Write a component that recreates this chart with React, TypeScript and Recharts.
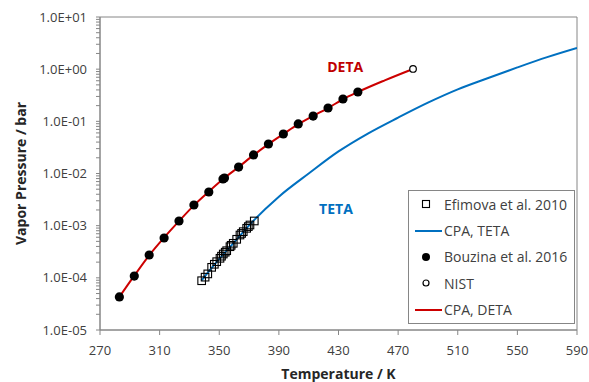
import { ComposedChart, Line, Scatter, XAxis, YAxis, Legend, ReferenceArea, ReferenceDot } from 'recharts'

// Bouzina et al. 2016 (DETA), filled circles
const BOUZINA_T = [283, 293, 303, 313, 323, 333, 343, 352.5, 353.5, 363, 373, 383, 393, 403, 413, 423, 433, 443]
const BOUZINA_P = [4.3e-5, 1.08e-4, 2.74e-4, 5.8e-4, 1.23e-3, 2.49e-3, 4.42e-3, 7.85e-3, 8.2e-3, 1.33e-2, 2.27e-2, 3.68e-2, 5.72e-2, 8.9e-2, 0.126, 0.18, 0.268, 0.365]

// NIST normal boiling point of DETA
const NIST_T = [480]
const NIST_P = [1.01]

// Efimova et al. 2010 (TETA), open squares
const EFIMOVA_T = [338.2, 340.5, 342.3, 344.9, 346.7, 348.3, 350.5, 351.5, 352.7, 354, 355, 357.2, 358, 359.4, 361.7, 363.9, 365, 366.1, 368.4, 369.5, 370.6, 373.5]
const EFIMOVA_P = [8.8e-5, 1.03e-4, 1.19e-4, 1.59e-4, 1.82e-4, 2.04e-4, 2.37e-4, 2.6e-4, 2.86e-4, 3.1e-4, 3.31e-4, 3.95e-4, 4.2e-4, 4.59e-4, 5.48e-4, 6.62e-4, 7.1e-4, 7.67e-4, 8.9e-4, 9.6e-4, 1.03e-3, 1.23e-3]

// CPA model curves
const CPA_DETA_T = [283, 293, 303, 313, 323, 333, 343, 353, 363, 373, 383, 393, 403, 413, 423, 433, 443, 461, 480]
const CPA_DETA_P = [4.3e-5, 1.1e-4, 2.7e-4, 5.9e-4, 1.22e-3, 2.45e-3, 4.5e-3, 8.0e-3, 1.33e-2, 2.25e-2, 3.65e-2, 5.7e-2, 8.8e-2, 0.127, 0.18, 0.265, 0.365, 0.61, 1.01]
const CPA_TETA_T = [338, 350, 360, 373, 390, 410, 430, 450, 470, 490, 510, 530, 550, 570, 590]
const CPA_TETA_P = [8.8e-5, 2.3e-4, 4.8e-4, 1.25e-3, 3.6e-3, 1.0e-2, 2.65e-2, 5.9e-2, 0.118, 0.228, 0.41, 0.67, 1.08, 1.7, 2.55]

const X_TICKS = [270, 310, 350, 390, 430, 470, 510, 550, 590]
const Y_DECADES = [1e-5, 1e-4, 1e-3, 1e-2, 1e-1, 1, 10]

const zip = (t: number[], p: number[]) => t.map((v, i) => ({ t: v, p: p[i] }))

const bouzina = zip(BOUZINA_T, BOUZINA_P)
const nist = zip(NIST_T, NIST_P)
const efimova = zip(EFIMOVA_T, EFIMOVA_P)
const cpaDeta = zip(CPA_DETA_T, CPA_DETA_P)
const cpaTeta = zip(CPA_TETA_T, CPA_TETA_P)

// minor ticks 2..9 inside every decade
const yTicks: number[] = []
Y_DECADES.forEach((d, i) => {
  yTicks.push(d)
  if (i < Y_DECADES.length - 1) for (let k = 2; k <= 9; k++) yTicks.push(Number((d * k).toPrecision(3)))
})

const FONT = '"Open Sans", sans-serif'
const AXIS = '#868686'
const TXT = '#404040'
const RED = '#cc0000'
const BLUE = '#0070c0'

const isDecade = (v: number) => Y_DECADES.some((d) => Math.abs(v / d - 1) < 1e-6)
const sci = (v: number) => {
  const e = Math.round(Math.log10(v))
  return '1.0E' + (e < 0 ? '-' : '+') + String(Math.abs(e)).padStart(2, '0')
}

const YTick = (props: any) => {
  const { x, y, payload } = props
  if (!isDecade(payload.value)) return <g />
  return (
    <text x={x} y={y} dy="0.35em" textAnchor="end" fill={TXT} fontSize={13} fontFamily={FONT}>
      {sci(payload.value)}
    </text>
  )
}

const Dot = (props: any) => <circle cx={props.cx} cy={props.cy} r={4.6} fill="#000" />
const OpenDot = (props: any) => <circle cx={props.cx} cy={props.cy} r={3.3} fill="#fff" stroke="#000" strokeWidth={1.2} />
const Square = (props: any) => (
  <rect x={props.cx - 3.8} y={props.cy - 3.8} width={7.6} height={7.6} fill="none" stroke="#000" strokeWidth={1.1} />
)

const LEGEND_ITEMS = [
  { name: 'Efimova et al. 2010', kind: 'square' },
  { name: 'CPA, TETA', kind: 'blue' },
  { name: 'Bouzina et al. 2016', kind: 'dot' },
  { name: 'NIST', kind: 'open' },
  { name: 'CPA, DETA', kind: 'red' },
]

const LegendIcon = ({ kind }: { kind: string }) => (
  <svg width={35} height={14}>
    {kind === 'square' && <rect x={13.5} y={3.5} width={7} height={7} fill="none" stroke="#000" strokeWidth={1.1} />}
    {kind === 'dot' && <circle cx={17} cy={7} r={4} fill="#000" />}
    {kind === 'open' && <circle cx={17} cy={7} r={3} fill="#fff" stroke="#000" strokeWidth={1.2} />}
    {kind === 'blue' && <line x1={6} x2={33} y1={7} y2={7} stroke={BLUE} strokeWidth={2} />}
    {kind === 'red' && <line x1={6} x2={33} y1={7} y2={7} stroke={RED} strokeWidth={2} />}
  </svg>
)

const LegendBox = () => (
  <div style={{ width: 167, height: 134, boxSizing: 'border-box', border: `1px solid ${AXIS}`, background: '#fff' }}>
    {LEGEND_ITEMS.map((it) => (
      <div key={it.name} style={{ display: 'flex', alignItems: 'center', height: 26.4 }}>
        <LegendIcon kind={it.kind} />
        <span style={{ fontFamily: FONT, fontSize: 14, color: TXT }}>{it.name}</span>
      </div>
    ))}
  </div>
)

export default function App() {
  return (
    <div style={{ position: 'absolute', left: 0, top: 0, width: 589, height: 382, background: '#fff' }}>
      <ComposedChart width={589} height={382} margin={{ top: 17, right: 12, bottom: 0, left: 0 }}>
        <XAxis
          type="number"
          dataKey="t"
          domain={[270, 590]}
          ticks={X_TICKS}
          interval={0}
          allowDataOverflow
          height={52}
          tickSize={5}
          tickMargin={11}
          stroke={AXIS}
          tick={{ fill: TXT, fontSize: 13, fontFamily: FONT }}
          label={{
            content: (p: any) => {
              const vb = p.viewBox
              return (
                <text x={vb.x + vb.width / 2} y={379} textAnchor="middle" fontWeight="bold" fontSize={14} fontFamily={FONT} fill="#262626">
                  Temperature / K
                </text>
              )
            },
          }}
        />
        <YAxis
          type="number"
          dataKey="p"
          scale="log"
          domain={[1e-5, 10]}
          ticks={yTicks}
          interval={0}
          allowDataOverflow
          width={100}
          tickSize={4}
          tickMargin={9}
          stroke={AXIS}
          tick={<YTick />}
          label={{
            content: (p: any) => {
              const vb = p.viewBox
              const cy = vb.y + vb.height / 2
              return (
                <text x={21} y={cy} transform={`rotate(-90 21 ${cy})`} dy="0.35em" textAnchor="middle" fontWeight="bold" fontSize={14} fontFamily={FONT} fill="#262626">
                  Vapor Pressure / bar
                </text>
              )
            },
          }}
        />
        <ReferenceArea x1={270} x2={590} y1={1e-5} y2={10} fill="none" stroke={AXIS} strokeWidth={1} />
        <Line data={cpaTeta} dataKey="p" type="monotone" stroke={BLUE} strokeWidth={2} dot={false} isAnimationActive={false} />
        <Line data={cpaDeta} dataKey="p" type="monotone" stroke={RED} strokeWidth={2} dot={false} isAnimationActive={false} />
        <Scatter data={efimova} dataKey="p" shape={<Square />} isAnimationActive={false} />
        <Scatter data={bouzina} dataKey="p" shape={<Dot />} isAnimationActive={false} />
        <Scatter data={nist} dataKey="p" shape={<OpenDot />} isAnimationActive={false} />
        <ReferenceDot x={434.5} y={1.1} r={0} fill="none" stroke="none"
          label={{ value: 'DETA', position: 'center', fill: '#c00000', fontWeight: 'bold', fontSize: 14, fontFamily: FONT }} />
        <ReferenceDot x={428.3} y={2.09e-3} r={0} fill="none" stroke="none"
          label={{ value: 'TETA', position: 'center', fill: BLUE, fontWeight: 'bold', fontSize: 14, fontFamily: FONT }} />
        <Legend layout="vertical" align="center" verticalAlign="middle"
          wrapperStyle={{ left: 408, top: 190, width: 167, height: 134 }}
          content={() => <LegendBox />} />
      </ComposedChart>
    </div>
  )
}
